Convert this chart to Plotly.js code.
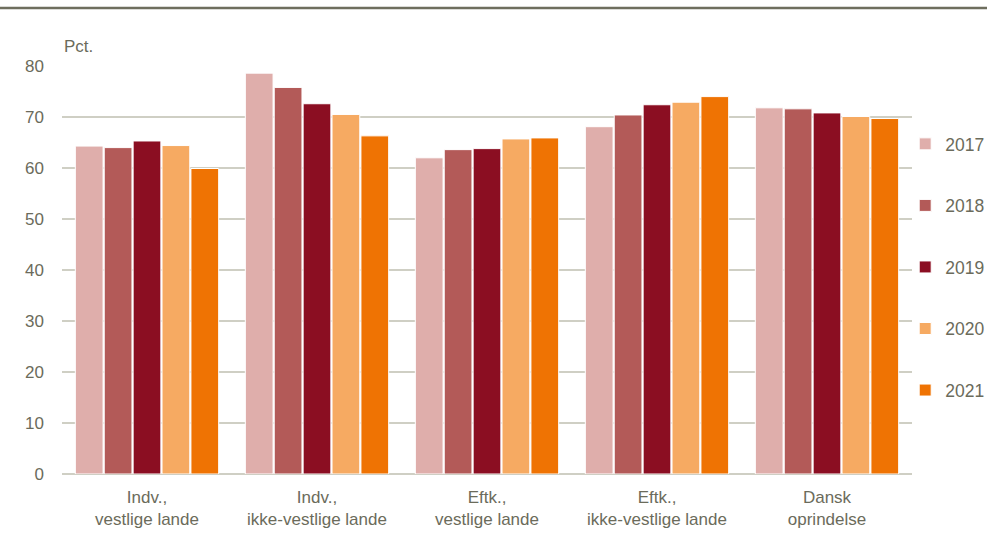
<!DOCTYPE html>
<html>
<head>
<meta charset="utf-8">
<script src="https://cdn.plot.ly/plotly-3.0.1.min.js"></script>
<style>html,body{margin:0;padding:0;background:#fff;}#chart{width:987px;height:539px;}</style>
</head>
<body>
<div id="chart"></div>
<script>
const categories = ["Indv.,<br>vestlige lande", "Indv.,<br>ikke-vestlige lande", "Eftk.,<br>vestlige lande", "Eftk.,<br>ikke-vestlige lande", "Dansk<br>oprindelse"];
const years = ["2017", "2018", "2019", "2020", "2021"];
const v2017 = [64.3, 78.6, 62.0, 68.1, 71.8];
const v2018 = [64.0, 75.8, 63.6, 70.4, 71.6];
const v2019 = [65.3, 72.6, 63.8, 72.4, 70.8];
const v2020 = [64.4, 70.5, 65.7, 72.9, 70.1];
const v2021 = [59.9, 66.3, 65.9, 74.0, 69.7];
const series = [v2017, v2018, v2019, v2020, v2021];
const colors = ["#dfaeab", "#b35a58", "#8b0e22", "#f6aa62", "#ef7303"];
const FONT = "'Liberation Sans Narrow', 'Arial Narrow', 'Liberation Sans', Arial, sans-serif";
const txt = "#6b6b5b";

const traces = series.map((vals, i) => ({
  type: "bar",
  name: years[i],
  x: categories,
  y: vals,
  legendgroup: years[i],
  marker: {color: colors[i], line: {color: "#ffffff", width: 1}},
  hoverinfo: "x+y+name"
}));

const layout = {
  width: 987, height: 539,
  margin: {l: 62, r: 75, t: 66, b: 65, autoexpand: false},
  paper_bgcolor: "#ffffff", plot_bgcolor: "#ffffff",
  font: {family: FONT, size: 16, color: txt},
  barmode: "group",
  bargap: 0.15,
  bargroupgap: 0.04,
  xaxis: {
    showgrid: false, zeroline: false, showline: false, ticks: "",
    tickfont: {family: FONT, size: 17, color: txt},
    ticklabelstandoff: 11,
    fixedrange: true
  },
  yaxis: {
    range: [0, 80], dtick: 10, tick0: 0,
    showgrid: true, gridcolor: "#cfcfc4", gridwidth: 2,
    zeroline: true, zerolinecolor: "#cfcfc4", zerolinewidth: 2,
    showline: false, ticks: "", ticklabelstandoff: 17,
    tickfont: {family: FONT, size: 17, color: txt},
    fixedrange: true
  },
  showlegend: true,
  legend: {
    x: 0.992, xanchor: "left", y: 0.853, yanchor: "top",
    traceorder: "grouped", tracegroupgap: 35.8,
    font: {family: FONT, size: 17.5, color: txt},
    itemwidth: 30, bgcolor: "rgba(0,0,0,0)"
  },
  shapes: [{
    type: "line", xref: "paper", yref: "paper",
    x0: -0.073, x1: 1.089, y0: 1.142, y1: 1.142,
    line: {color: "#6e6e5e", width: 2.5}
  }],
  annotations: [{
    text: "Pct.", xref: "paper", yref: "paper", x: 0, y: 1.02,
    xanchor: "left", yanchor: "bottom", showarrow: false,
    font: {family: FONT, size: 17, color: txt}
  }]
};

Plotly.newPlot("chart", traces, layout, {displayModeBar: false, staticPlot: true});
</script>
</body>
</html>
